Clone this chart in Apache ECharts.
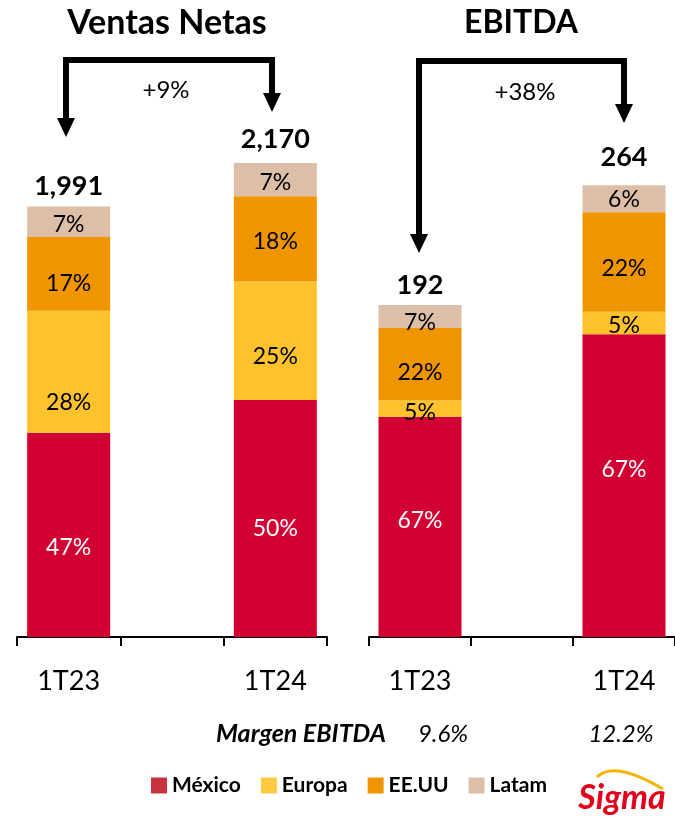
<!DOCTYPE html>
<html>
<head>
<meta charset="utf-8">
<script src="https://cdn.jsdelivr.net/npm/echarts@6/dist/echarts.min.js"></script>
<style>
  html, body { margin: 0; padding: 0; background: #fff; }
  #chart { width: 675px; height: 819px; }
</style>
</head>
<body>
<div id="chart"></div>
<script>
// categorias (la del medio queda vacia, como en el original)
const categories = ['1T23', '', '1T24']
const regions = ['México', 'Europa', 'EE.UU', 'Latam']

// Ventas Netas: mezcla por region (%) y total
const ventasMexico = [47, null, 50]
const ventasEuropa = [28, null, 25]
const ventasEEUU = [17, null, 18]
const ventasLatam = [7, null, 7]
const ventasTotal = [1991, null, 2170]

// EBITDA: mezcla por region (%) y total
const ebitdaMexico = [67, null, 67]
const ebitdaEuropa = [5, null, 5]
const ebitdaEEUU = [22, null, 22]
const ebitdaLatam = [7, null, 6]
const ebitdaTotal = [192, null, 264]

const growth = ['+9%', '+38%']
const margen = ['9.6%', '12.2%']

const colors = ['#D20032', '#FEC22D', '#EE9500', '#DDBFA8']
const legendColors = ['#C8323F', '#FEC940', '#EE9500', '#DDBFA8']
const FONT = 'Lato'

function seg (name, pct, totals, idx, color, textColor, dy) {
  return {
    name: name,
    type: 'bar',
    stack: 'p' + idx,
    xAxisIndex: idx,
    yAxisIndex: idx,
    barWidth: 83,
    itemStyle: { color: color },
    data: pct.map((p, i) => p == null ? null : {
      value: totals[i] * p / 100,
      label: {
        show: true,
        position: 'inside',
        offset: [0, dy[i]],
        formatter: p + '%',
        color: textColor,
        fontFamily: FONT,
        fontSize: 23
      }
    })
  }
}

function totalSeries (totals, idx, dist) {
  return {
    type: 'scatter',
    xAxisIndex: idx,
    yAxisIndex: idx,
    symbolSize: 0,
    silent: true,
    itemStyle: { opacity: 1 },
    data: totals.map((t, i) => t == null ? null : {
      value: t,
      label: {
        show: true,
        position: 'top',
        distance: dist[i],
        formatter: t.toLocaleString('en-US'),
        color: '#000',
        fontFamily: FONT,
        fontWeight: 'bold',
        fontSize: 27
      }
    })
  }
}

function xAxis (idx) {
  return {
    type: 'category',
    gridIndex: idx,
    data: categories,
    axisLine: { lineStyle: { color: '#000', width: 2 } },
    axisTick: { show: true, length: 9, lineStyle: { color: '#000', width: 2 } },
    axisLabel: { color: '#000', fontFamily: FONT, fontSize: 27, margin: 31, interval: 0 }
  }
}

function arrow (x1, x2, y, tip1, tip2, color) {
  const w = 9, h = 19
  return [
    { type: 'polyline', shape: { points: [[x1, tip1 - h + 2], [x1, y], [x2, y], [x2, tip2 - h + 2]] },
      style: { stroke: color, lineWidth: 6, fill: null, lineJoin: 'miter' } },
    { type: 'polygon', shape: { points: [[x1 - w, tip1 - h], [x1 + w, tip1 - h], [x1, tip1]] }, style: { fill: color } },
    { type: 'polygon', shape: { points: [[x2 - w, tip2 - h], [x2 + w, tip2 - h], [x2, tip2]] }, style: { fill: color } }
  ]
}

const chart = echarts.init(document.getElementById('chart'))

const option = {
  animation: false,
  backgroundColor: '#fff',
  grid: [
    { left: 17, width: 310, top: 91, bottom: 182 },
    { left: 369, width: 311, top: 91, bottom: 182 }
  ],
  xAxis: [xAxis(0), xAxis(1)],
  yAxis: [
    { type: 'value', gridIndex: 0, min: 0, max: 2500, show: false },
    { type: 'value', gridIndex: 1, min: 0, max: 319, show: false }
  ],
  legend: {
    data: regions.map((r, i) => ({ name: r, itemStyle: { color: legendColors[i] } })),
    left: 146,
    top: 770,
    icon: 'rect',
    itemWidth: 16,
    itemHeight: 16,
    itemGap: 20,
    selectedMode: false,
    textStyle: { color: '#000', fontFamily: FONT, fontWeight: 'bold', fontSize: 21 }
  },
  series: [
    seg(regions[0], ventasMexico, ventasTotal, 0, colors[0], '#fff', [13, 0, 10]),
    seg(regions[1], ventasEuropa, ventasTotal, 0, colors[1], '#000', [31, 0, 16]),
    seg(regions[2], ventasEEUU, ventasTotal, 0, colors[2], '#000', [10, 0, 3]),
    seg(regions[3], ventasLatam, ventasTotal, 0, colors[3], '#000', [3, 0, 3]),
    totalSeries(ventasTotal, 0, [2, 0, 10]),
    seg(regions[0], ebitdaMexico, ebitdaTotal, 1, colors[0], '#fff', [-6, 0, -16]),
    seg(regions[1], ebitdaEuropa, ebitdaTotal, 1, colors[1], '#000', [4, 0, 3]),
    seg(regions[2], ebitdaEEUU, ebitdaTotal, 1, colors[2], '#000', [8, 0, 7]),
    seg(regions[3], ebitdaLatam, ebitdaTotal, 1, colors[3], '#000', [6, 0, 1]),
    totalSeries(ebitdaTotal, 1, [10, 0, 14])
  ],
  graphic: [
    { type: 'text', x: 167, y: 23, style: { text: 'Ventas Netas', fill: '#000', font: 'bold 34px Lato', align: 'center', verticalAlign: 'middle' } },
    { type: 'text', x: 521, y: 23, style: { text: 'EBITDA', fill: '#000', font: 'bold 32px Lato', align: 'center', verticalAlign: 'middle' } },
    ...arrow(66, 272, 60, 137, 112, '#000'),
    ...arrow(419, 624, 61, 253, 123, '#000'),
    { type: 'text', x: 166, y: 90, style: { text: growth[0], fill: '#000', font: '24px Lato', align: 'center', verticalAlign: 'middle' } },
    { type: 'text', x: 525, y: 92, style: { text: growth[1], fill: '#000', font: '24px Lato', align: 'center', verticalAlign: 'middle' } },
    { type: 'text', x: 216, y: 734, style: { text: 'Margen EBITDA', fill: '#000', font: 'italic bold 25px Lato', align: 'left', verticalAlign: 'middle' } },
    { type: 'text', x: 443, y: 734, style: { text: margen[0], fill: '#000', font: 'italic 24px Lato', align: 'center', verticalAlign: 'middle' } },
    { type: 'text', x: 621, y: 734, style: { text: margen[1], fill: '#000', font: 'italic 24px Lato', align: 'center', verticalAlign: 'middle' } },
    // logo
    { type: 'bezierCurve', shape: { x1: 597, y1: 777, cpx1: 614, cpy1: 760, x2: 663, y2: 789 },
      style: { stroke: '#F5B400', lineWidth: 3, fill: null } },
    { type: 'text', x: 622, y: 798, style: { text: 'Sigma', fill: '#E3001B', font: 'italic bold 34px Lato', align: 'center', verticalAlign: 'middle' } }
  ]
}

chart.setOption(option)
</script>
</body>
</html>
